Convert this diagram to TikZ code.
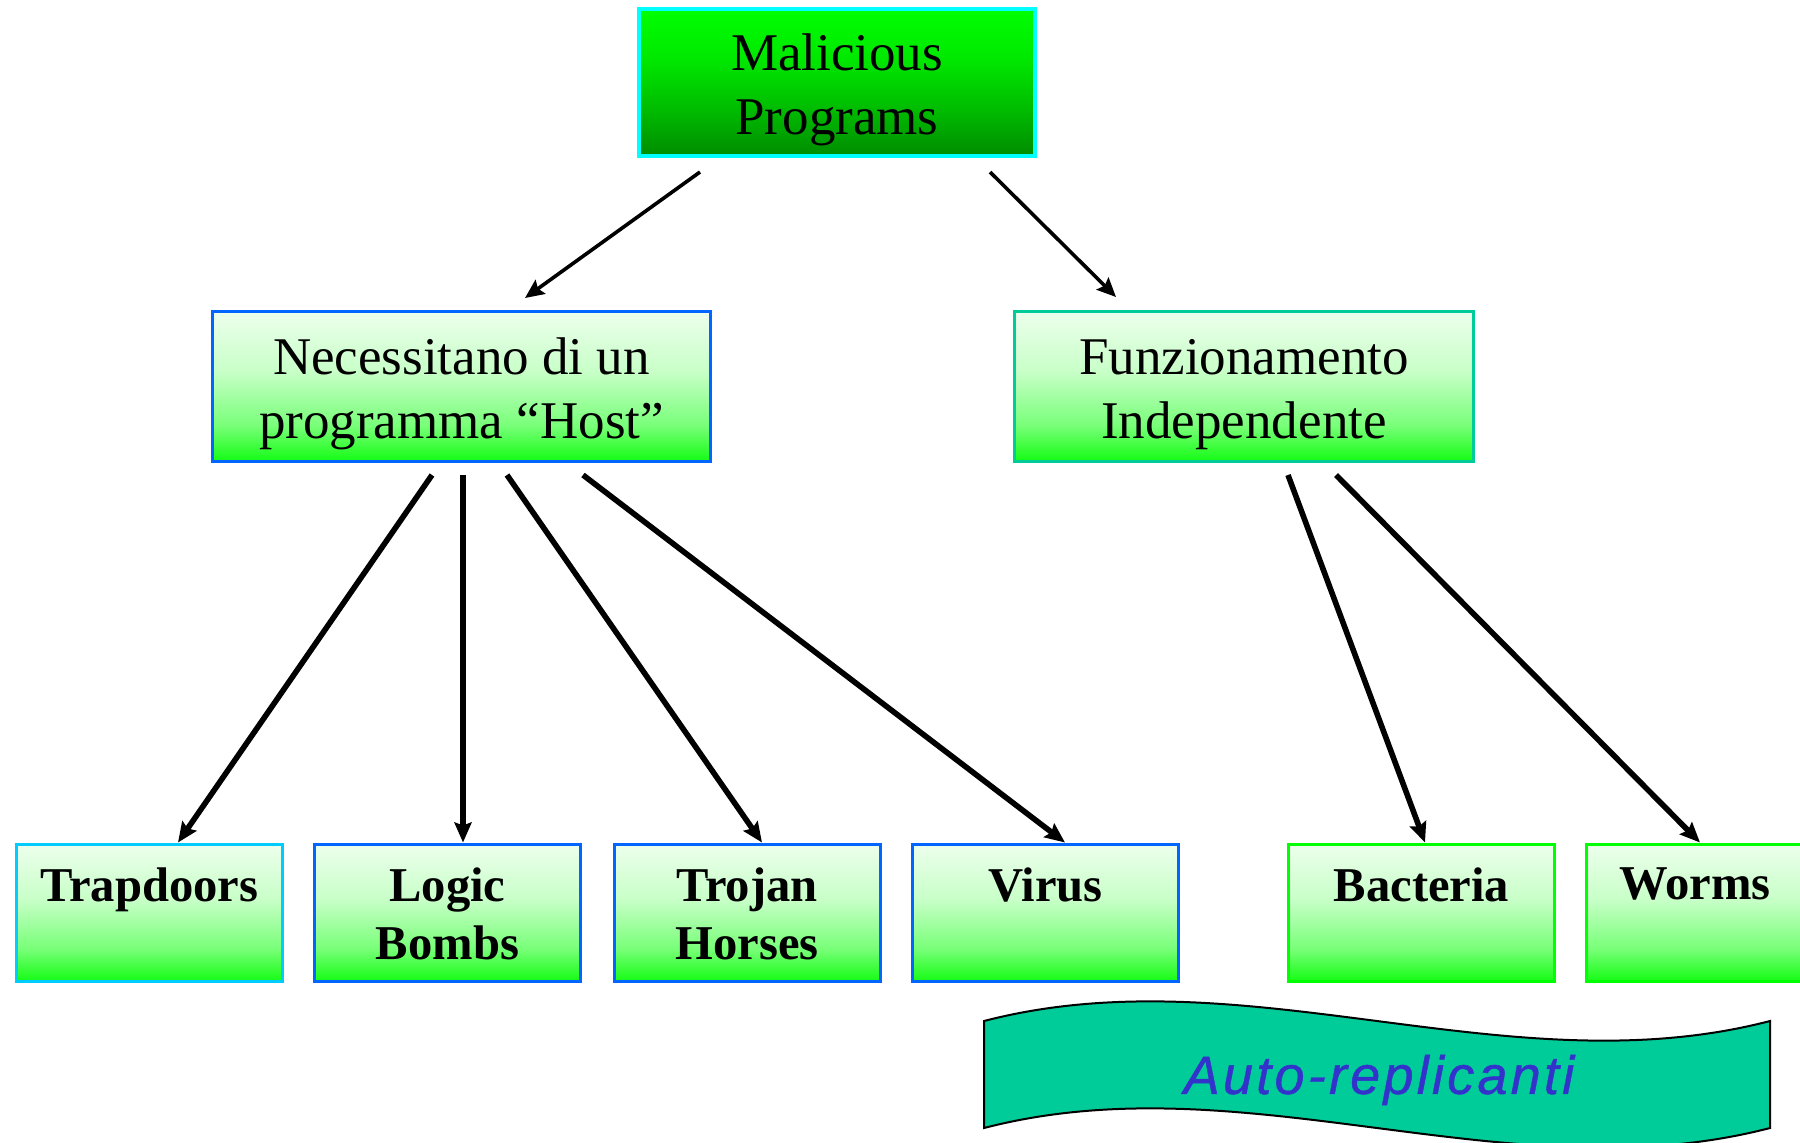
\documentclass[tikz,border=0pt]{standalone}
\usepackage{fontspec}
\setmainfont{Liberation Serif}
\newfontfamily\bannerfont[LetterSpace=6,FakeBold=0.8]{Liberation Sans}
\usetikzlibrary{arrows.meta,calc}

% palette
\definecolor{gTop}{RGB}{236,255,236}
\definecolor{gMid}{RGB}{200,255,200}
\definecolor{gLow}{RGB}{120,255,120}
\definecolor{gBot}{RGB}{20,252,20}
\definecolor{dTop}{RGB}{0,255,0}
\definecolor{dMid}{RGB}{0,232,0}
\definecolor{dLow}{RGB}{0,185,0}
\definecolor{dBot}{RGB}{0,140,0}
\definecolor{edgeCyan}{RGB}{0,255,255}
\definecolor{edgeSky}{RGB}{0,204,255}
\definecolor{edgeBlue}{RGB}{0,102,255}
\definecolor{edgeTeal}{RGB}{0,204,153}
\definecolor{edgeGreen}{RGB}{0,255,0}
\definecolor{bannerFill}{RGB}{0,204,153}
\definecolor{bannerInk}{RGB}{51,51,204}

% pale-to-green fade of the category boxes
\pgfdeclareverticalshading{paleFade}{100bp}{color(0bp)=(gBot); color(25bp)=(gBot);
  color(37bp)=(gLow); color(55bp)=(gMid); color(75bp)=(gTop); color(100bp)=(gTop)}
% bright-to-dark fade of the root box
\pgfdeclareverticalshading{deepFade}{100bp}{color(0bp)=(dBot); color(25bp)=(dBot);
  color(40bp)=(dLow); color(58bp)=(dMid); color(75bp)=(dTop); color(100bp)=(dTop)}

% invisible strut that lowers two-line box texts a little
\newcommand{\toppad}{\rule{0pt}{26pt}}

\tikzset{
  rootbox/.style={draw=edgeCyan, line width=2pt, shading=deepFade,
    minimum width=198pt, minimum height=73.5pt, inner sep=0pt, outer sep=0pt,
    align=center, font=\fontsize{26.5pt}{32pt}\selectfont},
  midbox/.style={draw=#1, line width=1.5pt, shading=paleFade,
    minimum height=75pt, inner sep=0pt, outer sep=0pt,
    align=center, font=\fontsize{26.5pt}{32pt}\selectfont},
  leafbox/.style={draw=#1, line width=1.5pt, shading=paleFade,
    minimum width=133pt, minimum height=68.5pt, inner sep=0pt, outer sep=0pt},
  leaftext/.style={anchor=north, inner sep=0pt, align=center,
    font=\fontsize{24.3pt}{29pt}\selectfont\bfseries},
  thinarrow/.style={line width=1.8pt, -{Stealth[length=9.5pt,width=8.5pt,inset=1.5pt]}},
  thickarrow/.style={line width=2.8pt, -{Stealth[length=10pt,width=8.5pt,inset=1.5pt]}}
}

\begin{document}
\begin{tikzpicture}[x=0.5pt,y=-0.5pt]
\useasboundingbox (0,0) rectangle (1800,1142);
\clip (0,0) rectangle (1800,1142);

% root
\node[rootbox] (root) at (837,82.5) {\toppad Malicious\\Programs};

% second level
\node[midbox=edgeBlue, minimum width=249pt] (host) at (461.5,386.5)
  {\toppad Necessitano di un\\programma “Host”};
\node[midbox=edgeTeal, minimum width=229.5pt] (indep) at (1244,386.5)
  {\toppad Funzionamento\\Independente};

% leaves
\node[leafbox=edgeSky]   (trap)   at (149.5,913) {};
\node[leafbox=edgeBlue]  (logic)  at (447.5,913) {};
\node[leafbox=edgeBlue]  (trojan) at (747,913)   {};
\node[leafbox=edgeBlue]  (virus)  at (1045.5,913) {};
\node[leafbox=edgeGreen] (bact)   at (1421.5,913) {};
\node[leafbox=edgeGreen] (worms)  at (1719,913)  {};

\node[leaftext] (trapT)   at ($(trap.north)+(0,23)$)   {Trapdoors};
\node[leaftext] (logicT)  at ($(logic.north)+(0,23)$)  {Logic\\Bombs};
\node[leaftext] (trojanT) at ($(trojan.north)+(0,23)$) {Trojan\\Horses};
\node[leaftext] (virusT)  at ($(virus.north)+(0,23)$)  {Virus};
\node[leaftext] (bactT)   at ($(bact.north)+(0,23)$)   {Bacteria};
\node[leaftext] (wormsT)  at ($(worms.north)+(-24,23)$) {Worms};

% connectors
\draw[thinarrow] ($(root.south)+(-137,16)$) -- ($(host.north)+(63.5,-13.5)$);
\draw[thinarrow] ($(root.south)+(153,16)$)  -- ($(indep.north)+(-128,-14.5)$);

\draw[thickarrow] ($(host.south)+(-29.5,13.5)$) -- ($(trap.north)+(28.5,-2)$);
\draw[thickarrow] ($(host.south)+(1.5,13.5)$)   -- ($(logic.north)+(15.5,-2)$);
\draw[thickarrow] ($(host.south)+(45.5,13.5)$)  -- ($(trojan.north)+(15,-2)$);
\draw[thickarrow] ($(host.south)+(121.5,13.5)$) -- ($(virus.north)+(19.5,-2)$);

\draw[thickarrow] ($(indep.south)+(44,13.5)$) -- ($(bact.north)+(3.5,-2)$);
\draw[thickarrow] ($(indep.south)+(92,13.5)$) -- ($(worms.north)+(-19,-2)$);

% wavy banner
\draw[fill=bannerFill, line width=1pt]
  (984,1021) .. controls (1246,953) and (1508,1089) .. (1770,1021)
  -- (1770,1128) .. controls (1508,1196) and (1246,1060) .. (984,1128) -- cycle;
\node[text=bannerInk, inner sep=0pt] (banner) at (1379,1080)
  {\bannerfont\itshape\fontsize{27pt}{32pt}\selectfont Auto-replicanti};
\end{tikzpicture}
\end{document}
